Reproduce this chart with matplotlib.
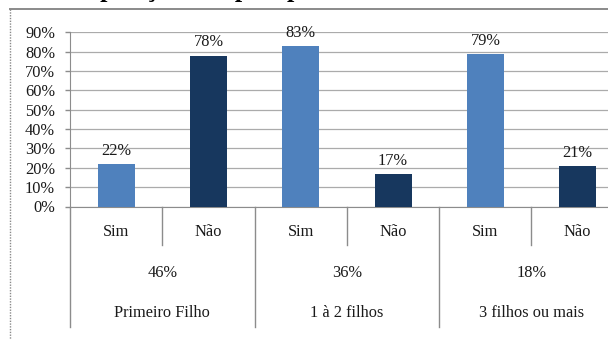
import matplotlib
matplotlib.use("Agg")
import matplotlib.pyplot as plt
from matplotlib.lines import Line2D
from matplotlib.transforms import blended_transform_factory

# Data
groups = ["Primeiro Filho", "1 à 2 filhos", "3 filhos ou mais"]
group_shares = [46, 36, 18]
answers = ["Sim", "Não"]
sim_values = [22, 83, 79]
nao_values = [78, 17, 21]
y_ticks = [0, 10, 20, 30, 40, 50, 60, 70, 80, 90]
title_text = "Composição dos pais por número de filhos"

SIM_COLOR = "#4F81BD"
NAO_COLOR = "#17375E"
GRID_COLOR = "#ABABAB"
AXIS_COLOR = "#8C8C8C"
FONT = "Liberation Serif"
FS = 11.8

W, H, DPI = 608, 339, 100
fig = plt.figure(figsize=(W / DPI, H / DPI), dpi=DPI)
fig.patch.set_facecolor("white")

# plot area in pixel terms
left_px, zero_px, top_px = 70.0, 206.5, 32.3
slot_px = 92.3
n_slots = len(groups) * len(answers)
right_px = left_px + n_slots * slot_px
ax = fig.add_axes([left_px / W, (H - zero_px) / H,
                   (right_px - left_px) / W, (zero_px - top_px) / H])

# bars
positions, heights, colors, labels = [], [], [], []
for g in range(len(groups)):
    for a, vals in enumerate([sim_values, nao_values]):
        positions.append(g * len(answers) + a)
        heights.append(vals[g])
        colors.append(SIM_COLOR if a == 0 else NAO_COLOR)
        labels.append(answers[a])

bars = ax.bar(positions, heights, width=0.4, color=colors, zorder=3)
for p, h in zip(positions, heights):
    ax.annotate(f"{h}%", xy=(p, h), xytext=(0, 6.5), textcoords="offset points",
                ha="center", va="baseline", family=FONT, fontsize=FS,
                color="#1a1a1a", zorder=4, annotation_clip=False)

ax.set_xlim(-0.5, n_slots - 0.5)
ax.set_ylim(0, 90)
ax.set_yticks(y_ticks)
ax.set_yticklabels([f"{t}%" for t in y_ticks], family=FONT, fontsize=FS, color="#1a1a1a")
ax.set_xticks([])
ax.grid(axis="y", color=GRID_COLOR, linewidth=0.9, zorder=0)
ax.tick_params(axis="y", length=3.6, width=1.0, color=AXIS_COLOR, pad=7.2)
for side in ["top", "right"]:
    ax.spines[side].set_visible(False)
ax.spines["left"].set_color(AXIS_COLOR)
ax.spines["bottom"].set_color(AXIS_COLOR)
ax.set_facecolor("none")

# multi-level category axis below the plot
axis_h = zero_px - top_px
def frac(ypx):
    return (zero_px - ypx) / axis_h

tr = blended_transform_factory(ax.transData, ax.transAxes)
inner_bottom = frac(245)
outer_bottom = frac(327)
for s in range(n_slots + 1):
    x = s - 0.5
    bottom = outer_bottom if s % len(answers) == 0 else inner_bottom
    ax.add_line(Line2D([x, x], [0, bottom], transform=tr, color=AXIS_COLOR,
                       linewidth=1.0, clip_on=False))

for p, lab in zip(positions, labels):
    ax.text(p, frac(236), lab, transform=tr, ha="center", va="baseline",
            family=FONT, fontsize=FS, color="#1a1a1a")

for g, (name, share) in enumerate(zip(groups, group_shares)):
    cx = g * len(answers) + (len(answers) - 1) / 2
    ax.text(cx, frac(277), f"{share}%", transform=tr, ha="center", va="baseline",
            family=FONT, fontsize=FS, color="#1a1a1a")
    ax.text(cx, frac(317), name, transform=tr, ha="center", va="baseline",
            family=FONT, fontsize=FS, color="#1a1a1a")

# chart frame: solid top edge, dotted left edge
fig.add_artist(Line2D([10 / W, 1.0], [(H - 9) / H, (H - 9) / H],
                      transform=fig.transFigure, color="#8A8A8A", linewidth=1.4))
fig.add_artist(Line2D([10 / W, 10 / W], [(H - 9) / H, 0],
                      transform=fig.transFigure, color="#8A8A8A", linewidth=1.0,
                      linestyle=(0, (1, 1))))

# heading above the frame
fig.text(46 / W, (H + 2.5) / H, title_text, ha="left", va="baseline",
         family=FONT, fontweight="bold", fontsize=19, color="black")

fig.savefig("out.png", dpi=DPI)
